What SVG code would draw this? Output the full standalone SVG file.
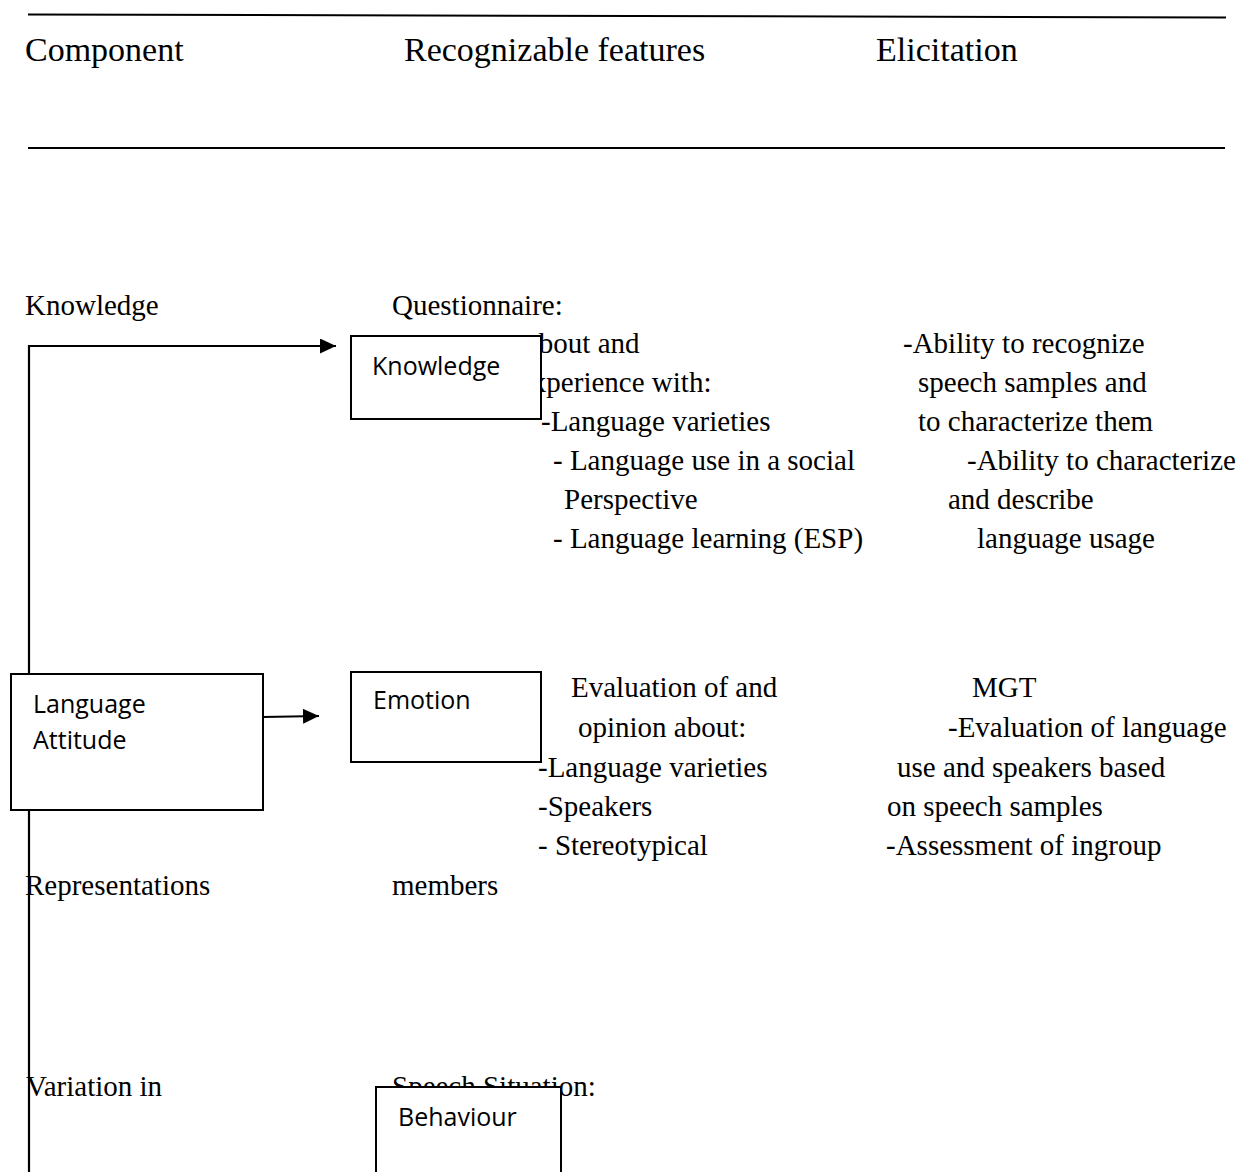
<svg xmlns="http://www.w3.org/2000/svg" width="1240" height="1172" viewBox="0 0 1240 1172">
<style>
.t{font-family:"Liberation Serif","Times New Roman",serif;font-size:29px;fill:#000}
.h{font-family:"Liberation Serif","Times New Roman",serif;font-size:34px;fill:#000}
.b{fill:#fff;stroke:#000;stroke-width:2}
.l{font-family:"Open Sans","Noto Sans",sans-serif;font-size:25px;fill:#000}
.c{fill:none;stroke:#000;stroke-width:2.2}
</style>
<defs>
<marker id="ah" markerUnits="userSpaceOnUse" markerWidth="16" markerHeight="15" refX="16" refY="7.5" orient="auto">
<path d="M0,0 L16,7.5 L0,15 z" fill="#000"/>
</marker>
</defs>
<rect width="1240" height="1172" fill="#fff"/>
<g id="header">
<line x1="28" y1="14.5" x2="1226" y2="17.5" stroke="#000" stroke-width="2"/>
<line x1="28" y1="148" x2="1225" y2="148" stroke="#000" stroke-width="2"/>
<text class="h" x="25" y="61">Component</text>
<text class="h" x="404" y="61">Recognizable features</text>
<text class="h" x="876" y="61">Elicitation</text>
</g>
<g id="texts">
<text class="t" x="25" y="315">Knowledge</text>
<text class="t" x="392" y="315">Questionnaire:</text>
<text class="t" x="526" y="353">about and</text>
<text class="t" x="519" y="392">experience with:</text>
<text class="t" x="541" y="431">-Language varieties</text>
<text class="t" x="553" y="470">- Language use in a social</text>
<text class="t" x="564" y="509">Perspective</text>
<text class="t" x="553" y="548">- Language learning (ESP)</text>
<text class="t" x="903" y="353">-Ability to recognize</text>
<text class="t" x="918" y="392">speech samples and</text>
<text class="t" x="918" y="431">to characterize them</text>
<text class="t" x="967" y="470">-Ability to characterize</text>
<text class="t" x="948" y="509">and describe</text>
<text class="t" x="977" y="548">language usage</text>
<text class="t" x="571" y="697">Evaluation of and</text>
<text class="t" x="972" y="697">MGT</text>
<text class="t" x="578" y="737">opinion about:</text>
<text class="t" x="948" y="737">-Evaluation of language</text>
<text class="t" x="538" y="777">-Language varieties</text>
<text class="t" x="897" y="777">use and speakers based</text>
<text class="t" x="538" y="816">-Speakers</text>
<text class="t" x="887" y="816">on speech samples</text>
<text class="t" x="538" y="855">- Stereotypical</text>
<text class="t" x="886" y="855">-Assessment of ingroup</text>
<text class="t" x="25" y="895">Representations</text>
<text class="t" x="392" y="895">members</text>
<text class="t" x="26" y="1096">Variation in</text>
<text class="t" x="392" y="1096">Speech Situation:</text>
</g>
<g id="connectors">
<path class="c" d="M29,1172 V346 H336" marker-end="url(#ah)"/>
<path class="c" d="M263,717 L319,716" marker-end="url(#ah)"/>
</g>
<g id="node-knowledge">
<rect class="b" x="351" y="336" width="190" height="83"/>
<text class="l" x="372" y="375">Knowledge</text>
</g>
<g id="node-language-attitude">
<rect class="b" x="11" y="674" width="252" height="136"/>
<text class="l" x="33" y="713">Language</text>
<text class="l" x="33" y="749">Attitude</text>
</g>
<g id="node-emotion">
<rect class="b" x="351" y="672" width="190" height="90"/>
<text class="l" x="373" y="709">Emotion</text>
</g>
<g id="node-behaviour">
<rect class="b" x="376" y="1087" width="185" height="100"/>
<text class="l" x="398" y="1126">Behaviour</text>
</g>
</svg>
